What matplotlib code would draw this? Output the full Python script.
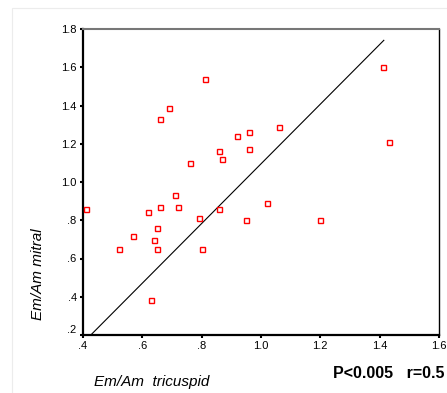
import numpy as np
import matplotlib.pyplot as plt
import matplotlib.transforms as mtransforms
from matplotlib.patches import Rectangle

plt.rcParams['font.family'] = ['Liberation Sans', 'DejaVu Sans']

# Em/Am values
tricuspid = [1.41, 0.81, 0.69, 0.66, 1.06, 0.92, 0.96, 1.43, 0.86, 0.96,
             0.87, 0.76, 0.71, 0.41, 0.62, 0.66, 0.72, 0.79, 0.86, 1.02,
             0.95, 1.20, 0.65, 0.57, 0.64, 0.52, 0.65, 0.80, 0.63]
mitral = [1.60, 1.54, 1.385, 1.33, 1.29, 1.24, 1.26, 1.21, 1.16, 1.17,
          1.12, 1.10, 0.93, 0.86, 0.845, 0.87, 0.87, 0.81, 0.86, 0.89,
          0.80, 0.80, 0.76, 0.72, 0.695, 0.65, 0.65, 0.65, 0.385]

# fitted line (as drawn)
fit_slope = 1.56
fit_intercept = -0.465
fit_x = [0.41, 1.414]

xticks = [0.4, 0.6, 0.8, 1.0, 1.2, 1.4, 1.6]
xticklabels = ['.4', '.6', '.8', '1.0', '1.2', '1.4', '1.6']
yticks = [0.2, 0.4, 0.6, 0.8, 1.0, 1.2, 1.4, 1.6, 1.8]
yticklabels = ['.2', '.4', '.6', '.8', '1.0', '1.2', '1.4', '1.6', '1.8']

fig = plt.figure(figsize=(4.47, 3.93), dpi=100)
fig.patches.append(Rectangle((12 / 447, -0.1), 1.2, (393 - 8) / 393 + 0.1,
                             transform=fig.transFigure, fill=False,
                             edgecolor='#ececec', linewidth=0.8))

ax = fig.add_axes([83 / 447, 58 / 393, 356 / 447, 306 / 393])

ax.plot(tricuspid, mitral, linestyle='none', marker='s', markersize=3.6,
        markerfacecolor='white', markeredgecolor='red', markeredgewidth=1.0,
        zorder=3, clip_on=False)

lx = np.array(fit_x)
ax.plot(lx, fit_intercept + fit_slope * lx, color='black', linewidth=0.8)

ax.set_xlim(0.4, 1.6)
ax.set_ylim(0.2, 1.8)
ax.set_xticks(xticks)
ax.set_xticklabels(xticklabels)
ax.set_yticks(yticks)
ax.set_yticklabels(yticklabels)
ax.tick_params(direction='out', length=2.5, width=1.5, labelsize=8, pad=2)

# the lowest y label sits a little above its tick
low = ax.get_yticklabels()[0]
low.set_transform(low.get_transform() +
                  mtransforms.ScaledTranslation(0, 6 / 100, fig.dpi_scale_trans))

ax.spines['left'].set_linewidth(1.6)
ax.spines['bottom'].set_linewidth(1.6)
ax.spines['top'].set_color('#777777')
ax.spines['top'].set_linewidth(1.5)
ax.spines['right'].set_linewidth(1.0)

fig.text(38 / 447, 1 - 274 / 393, 'Em/Am mitral', rotation=90, style='italic',
         fontsize=11, ha='center', va='center')
fig.text(152 / 447, 1 - 382 / 393, 'Em/Am  tricuspid', style='italic',
         fontsize=11, ha='center', va='center')
fig.text(333 / 447, 1 - 373 / 393, 'P<0.005   r=0.5', fontweight='bold',
         fontsize=11.5, ha='left', va='center')

fig.savefig('out.png', dpi=100)
